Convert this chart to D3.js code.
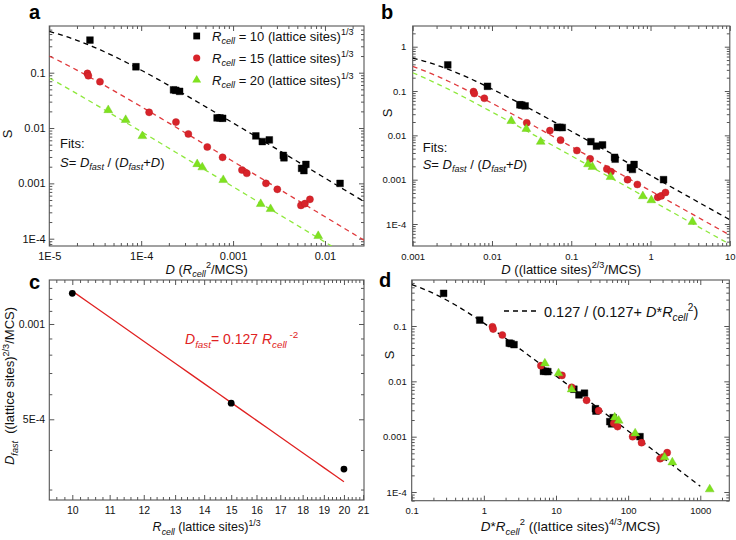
<!DOCTYPE html>
<html><head><meta charset="utf-8">
<script src="https://cdn.jsdelivr.net/npm/d3@7"></script>
<style>
body{margin:0;background:#fff}
svg{display:block}
text{font-family:"Liberation Sans",Arial,Helvetica,sans-serif;white-space:pre}
</style>
</head><body>
<svg id="chart" width="736" height="540"></svg>
<script>
// ---------------- DATA ----------------
const rcell = [10, 15, 20];
const legendLabels = [" = 10 (lattice sites)", " = 15 (lattice sites)", " = 20 (lattice sites)"];

// D in units of Rcell^2/MCS (panel a), S = fraction
const dR10 = [2.77e-5, 8.77e-5, 2.25e-4, 2.38e-4, 2.62e-4, 6.7e-4, 7.2e-4, 7.7e-4, 1.77e-3, 2.08e-3, 2.48e-3, 3.52e-3, 3.58e-3, 5.57e-3, 5.9e-3, 6.2e-3, 1.46e-2];
const sR10 = [0.389, 0.128, 0.049, 0.048, 0.046, 0.0152, 0.0152, 0.0150, 0.0072, 0.0057, 0.0061, 0.0032, 0.0029, 0.00187, 0.0017, 0.0022, 0.00100];
const dR15 = [2.6e-5, 2.66e-5, 3.56e-5, 1.22e-4, 2.39e-4, 3.26e-4, 5.24e-4, 7.69e-4, 1.25e-3, 1.41e-3, 2.28e-3, 3.03e-3, 5.48e-3, 6.05e-3, 6.86e-3];
const sR15 = [0.097, 0.088, 0.0687, 0.0192, 0.0128, 0.0078, 0.00454, 0.00295, 0.00174, 0.00152, 0.00100, 0.00078, 0.00040, 0.00043, 0.000514];
const dR20 = [4.38e-5, 6.78e-5, 1.03e-4, 4.07e-4, 4.62e-4, 7.82e-4, 2.0e-3, 2.56e-3, 8.45e-3];
const sR20 = [0.0211, 0.0140, 0.00716, 0.00223, 0.00195, 0.00115, 0.000424, 0.000344, 0.000112];

// fitted D_fast per cell size ((lattice sites)^2/3/MCS), panel c
const dfast = [1.25e-3, 5.62e-4, 3.48e-4];
const fitCoef = 0.127, fitExp = -2;

// tick values / labels
const ticksAx = [1e-5, 1e-4, 1e-3, 1e-2], labelsAx = ["1E-5", "1E-4", "0.001", "0.01"];
const ticksAy = [0.1, 0.01, 0.001, 1e-4], labelsAy = ["0.1", "0.01", "0.001", "1E-4"];
const ticksBx = [0.001, 0.01, 0.1, 1, 10], labelsBx = ["0.001", "0.01", "0.1", "1", "10"];
const ticksBy = [1, 0.1, 0.01, 0.001, 1e-4], labelsBy = ["1", "0.1", "0.01", "0.001", "1E-4"];
const ticksCx = [10, 11, 12, 13, 14, 15, 16, 17, 18, 19, 20, 21], labelsCx = ["10","11","12","13","14","15","16","17","18","19","20","21"];
const ticksCy = [0.001, 5e-4], labelsCy = ["0.001", "5E-4"];
const ticksDx = [0.1, 1, 10, 100, 1000], labelsDx = ["0.1", "1", "10", "100", "1000"];
const ticksDy = [0.1, 0.01, 0.001, 1e-4], labelsDy = ["0.1", "0.01", "0.001", "1E-4"];

// ---------------- STYLE ----------------
const markerColors = ["#000000", "#d8232a", "#7fe21f"];
const lineColors = ["#000000", "#e0393c", "#8ee83c"];
const frameColor = "#555";
const svg = d3.select("#chart");

const seriesD = [dR10, dR15, dR20];
const seriesS = [sR10, sR15, sR20];
const symbols = [d3.symbol(d3.symbolSquare, 46), d3.symbol(d3.symbolCircle, 40), d3.symbol(d3.symbolTriangle, 34)];

function rich(sel, parts, fs) {
  let cur = 0;
  parts.forEach(p => {
    const t = p[0], f = p[1] || "";
    const sub = f.includes("b"), sup = f.includes("p");
    const target = sub ? 0.3 * fs : (sup ? -0.42 * fs : 0);
    const ts = sel.append("tspan").text(t).attr("dy", (target - cur).toFixed(2));
    cur = target;
    if (f.includes("i")) ts.attr("font-style", "italic");
    if (sub || sup) ts.attr("font-size", (fs * 0.7).toFixed(1));
  });
}
function textAt(x, y, parts, fs, opts = {}) {
  const t = svg.append("text").attr("font-size", fs).attr("fill", opts.fill || "#111");
  if (opts.anchor) t.attr("text-anchor", opts.anchor);
  if (opts.rotate) t.attr("transform", `translate(${x},${y}) rotate(-90)`);
  else t.attr("x", x).attr("y", y);
  if (opts.weight) t.attr("font-weight", opts.weight);
  rich(t, parts, fs);
  return t;
}

function logMinors(domain) {
  const lo = Math.min(...domain), hi = Math.max(...domain);
  const out = [];
  for (let e = Math.floor(Math.log10(lo)) - 1; e <= Math.ceil(Math.log10(hi)); e++) {
    for (let m = 2; m <= 9; m++) { const v = m * Math.pow(10, e); if (v >= lo && v <= hi) out.push(v); }
  }
  return out;
}

function drawFrame(p) {
  const g = svg.append("g");
  const {x, y, L, R, T, B} = p;
  const mk = (axisFn, scale, vals, size, labels, pad, fs, tr) => {
    const ax = axisFn(scale).tickValues(vals).tickSize(-size).tickPadding(pad);
    ax.tickFormat(labels ? ((d, i) => labels[i]) : () => "");
    const a = g.append("g").attr("transform", tr).call(ax);
    a.select(".domain").remove();
    a.selectAll("line").attr("stroke", frameColor).attr("stroke-width", 1);
    a.selectAll("text").attr("font-size", fs).attr("fill", "#111")
      .attr("font-family", '"Liberation Sans",Arial,sans-serif');
    return a;
  };
  mk(d3.axisBottom, x, p.xt, 5, p.xl, p.xpad, p.fs, `translate(0,${B})`);
  mk(d3.axisBottom, x, p.xm, 3, null, 3, p.fs, `translate(0,${B})`);
  mk(d3.axisTop, x, p.xt, 5, null, 3, p.fs, `translate(0,${T})`);
  mk(d3.axisTop, x, p.xm, 3, null, 3, p.fs, `translate(0,${T})`);
  mk(d3.axisLeft, y, p.yt, 5, p.yl, p.ypad, p.fs, `translate(${L},0)`);
  mk(d3.axisLeft, y, p.ym, 3, null, 3, p.fs, `translate(${L},0)`);
  mk(d3.axisRight, y, p.yt, 5, null, 3, p.fs, `translate(${R},0)`);
  mk(d3.axisRight, y, p.ym, 3, null, 3, p.fs, `translate(${R},0)`);
  g.append("rect").attr("x", L).attr("y", T).attr("width", R - L).attr("height", B - T)
    .attr("fill", "none").attr("stroke", frameColor).attr("stroke-width", 1.1);
}

function clipFor(id, L, T, R, B) {
  svg.append("clipPath").attr("id", id).append("rect").attr("x", L).attr("y", T).attr("width", R - L).attr("height", B - T);
  return svg.append("g").attr("clip-path", `url(#${id})`);
}
function sampleLog(a, b, n) { const out = []; for (let i = 0; i <= n; i++) out.push(Math.pow(10, Math.log10(a) + (Math.log10(b) - Math.log10(a)) * i / n)); return out; }

function drawPoints(g, x, y, xs, ys, k) {
  g.selectAll(null).data(xs.map((d, i) => [d, ys[i]])).enter().append("path")
    .attr("d", symbols[k]).attr("fill", markerColors[k])
    .attr("stroke", k === 1 ? "#b81c22" : (k === 2 ? "#6cc81a" : "#000")).attr("stroke-width", 0.4)
    .attr("transform", d => `translate(${x(d[0])},${y(d[1])})`);
}

// ---------------- PANEL A ----------------
{
  const L = 49.3, R = 364, T = 26, B = 246;
  const x = d3.scaleLog().domain([1e-5, 0.0266]).range([L, R]);
  const y = d3.scaleLog().domain([0.698, 7.38e-5]).range([T, B]);
  drawFrame({x, y, L, R, T, B, xt: ticksAx, xl: labelsAx, xm: logMinors(x.domain()), yt: ticksAy, yl: labelsAy, ym: logMinors(y.domain()), xpad: 5.8, ypad: 3.6, fs: 11});
  const g = clipFor("clipA", L, T, R, B);
  const line = d3.line().x(d => x(d[0])).y(d => y(d[1]));
  rcell.forEach((r, k) => {
    const df = dfast[k] / (r * r);
    const pts = sampleLog(1e-5, 0.0266, 80).map(d => [d, df / (df + d)]);
    g.append("path").attr("d", line(pts)).attr("fill", "none").attr("stroke", lineColors[k]).attr("stroke-width", 1.3).attr("stroke-dasharray", "5,4");
  });
  rcell.forEach((r, k) => drawPoints(g, x, y, seriesD[k], seriesS[k], k));
  // legend
  rcell.forEach((r, k) => {
    const ly = 36 + k * 22;
    svg.append("path").attr("d", symbols[k]).attr("fill", markerColors[k]).attr("transform", `translate(196.7,${ly})`);
    textAt(212, ly + 4.5, [["R", "i"], ["cell", "ib"], [legendLabels[k]], ["1/3", "p"]], 13);
  });
  textAt(60, 148, [["Fits:"]], 13);
  textAt(60, 166.5, [["S", "i"], ["= "], ["D", "i"], ["fast", "ib"], [" / ("], ["D", "i"], ["fast", "ib"], ["+"], ["D", "i"], [")"]], 13);
  textAt((L + R) / 2, 273.5, [["D", "i"], [" ("], ["R", "i"], ["cell", "ib"], ["2", "p"], ["/MCS)"]], 13, {anchor: "middle"});
  textAt(11.5, (T + B) / 2 - 2, [["S"]], 13, {anchor: "middle", rotate: true});
  textAt(29, 18.5, [["a"]], 20, {weight: "bold", fill: "#000"});
}

// ---------------- PANEL B ----------------
{
  const L = 412.7, R = 729.8, T = 26, B = 246;
  const x = d3.scaleLog().domain([0.001, 10]).range([L, R]);
  const y = d3.scaleLog().domain([2.93, 3.19e-5]).range([T, B]);
  drawFrame({x, y, L, R, T, B, xt: ticksBx, xl: labelsBx, xm: logMinors(x.domain()), yt: ticksBy, yl: labelsBy, ym: logMinors(y.domain()), xpad: 7, ypad: 6.5, fs: 9.5});
  const g = clipFor("clipB", L, T, R, B);
  const line = d3.line().x(d => x(d[0])).y(d => y(d[1]));
  rcell.forEach((r, k) => {
    const df = dfast[k];
    const pts = sampleLog(0.001, 10, 80).map(d => [d, df / (df + d)]);
    g.append("path").attr("d", line(pts)).attr("fill", "none").attr("stroke", lineColors[k]).attr("stroke-width", 1.3).attr("stroke-dasharray", "5,4");
  });
  rcell.forEach((r, k) => drawPoints(g, x, y, seriesD[k].map(d => d * r * r), seriesS[k], k));
  textAt(422.7, 151.5, [["Fits:"]], 13);
  textAt(422.7, 168.5, [["S", "i"], ["= "], ["D", "i"], ["fast", "ib"], [" / ("], ["D", "i"], ["fast", "ib"], ["+"], ["D", "i"], [")"]], 13);
  textAt((L + R) / 2, 273.5, [["D", "i"], [" ((lattice sites)"], ["2/3", "p"], ["/MCS)"]], 13, {anchor: "middle"});
  textAt(391.5, 113, [["S"]], 13, {anchor: "middle", rotate: true});
  textAt(381, 18.5, [["b"]], 20, {weight: "bold", fill: "#000"});
}

// ---------------- PANEL C ----------------
{
  const L = 49.3, R = 364, T = 280, B = 500;
  const x = d3.scaleLog().domain([9.43, 21.05]).range([L, R]);
  const y = d3.scaleLog().domain([1.377e-3, 2.78e-4]).range([T, B]);
  const xm = d3.range(9.6, 21.01, 0.2).filter(v => Math.abs(v - Math.round(v)) > 0.05);
  const ym = d3.range(3e-4, 1.35e-3, 1e-4).filter(v => Math.abs(v - 5e-4) > 1e-6 && Math.abs(v - 1e-3) > 1e-6);
  drawFrame({x, y, L, R, T, B, xt: ticksCx, xl: labelsCx, xm, yt: ticksCy, yl: labelsCy, ym, xpad: 6.5, ypad: 4.3, fs: 10.5});
  const g = clipFor("clipC", L, T, R, B);
  const line = d3.line().x(d => x(d[0])).y(d => y(d[1]));
  const fit = d3.range(10, 20.01, 0.5).map(r => [r, fitCoef * Math.pow(r, fitExp)]);
  g.append("path").attr("d", line(fit)).attr("fill", "none").attr("stroke", "#e02222").attr("stroke-width", 1.3);
  g.selectAll(null).data(rcell.map((r, i) => [r, dfast[i]])).enter().append("circle")
    .attr("cx", d => x(d[0])).attr("cy", d => y(d[1])).attr("r", 3.4).attr("fill", "#000");
  textAt(185, 344, [["D", "i"], ["fast", "ib"], ["= 0.127 "], ["R", "i"], ["cell", "ib"], [" -2", "p"]], 14, {fill: "#e02222"});
  textAt((L + R) / 2, 531, [["R", "i"], ["cell", "ib"], [" (lattice sites)"], ["1/3", "p"]], 12.5, {anchor: "middle"});
  textAt(14, 386, [["D", "i"], ["fast", "ib"], ["  ((lattice sites)"], ["2/3", "p"], ["/MCS)"]], 13, {anchor: "middle", rotate: true});
  textAt(29, 289, [["c"]], 20, {weight: "bold", fill: "#000"});
}

// ---------------- PANEL D ----------------
{
  const L = 411.7, R = 729.3, T = 280, B = 500.7;
  const x = d3.scaleLog().domain([0.1, 2524]).range([L, R]);
  const y = d3.scaleLog().domain([0.678, 6.97e-5]).range([T, B]);
  drawFrame({x, y, L, R, T, B, xt: ticksDx, xl: labelsDx, xm: logMinors(x.domain()), yt: ticksDy, yl: labelsDy, ym: logMinors(y.domain()), xpad: 6.5, ypad: 5, fs: 9.5});
  const g = clipFor("clipD", L, T, R, B);
  const line = d3.line().x(d => x(d[0])).y(d => y(d[1]));
  const pts = sampleLog(0.1, 1000, 80).map(d => [d, fitCoef / (fitCoef + d)]);
  g.append("path").attr("d", line(pts)).attr("fill", "none").attr("stroke", "#000").attr("stroke-width", 1.3).attr("stroke-dasharray", "5,4");
  rcell.forEach((r, k) => drawPoints(g, x, y, seriesD[k].map(d => d * Math.pow(r, 4)), seriesS[k], k));
  svg.append("line").attr("x1", 504).attr("x2", 537).attr("y1", 311).attr("y2", 311).attr("stroke", "#000").attr("stroke-width", 1.3).attr("stroke-dasharray", "5,4");
  textAt(544, 317, [["0.127 / (0.127+ "], ["D", "i"], ["*"], ["R", "i"], ["cell", "ib"], ["2", "p"], [")"]], 14.5);
  textAt((L + R) / 2, 531, [["D", "i"], ["*"], ["R", "i"], ["cell", "ib"], ["2", "p"], [" ((lattice sites)"], ["4/3", "p"], ["/MCS)"]], 13.5, {anchor: "middle"});
  textAt(394, 355, [["S"]], 13, {anchor: "middle", rotate: true});
  textAt(379, 287, [["d"]], 20, {weight: "bold", fill: "#000"});
}
</script>
</body></html>
